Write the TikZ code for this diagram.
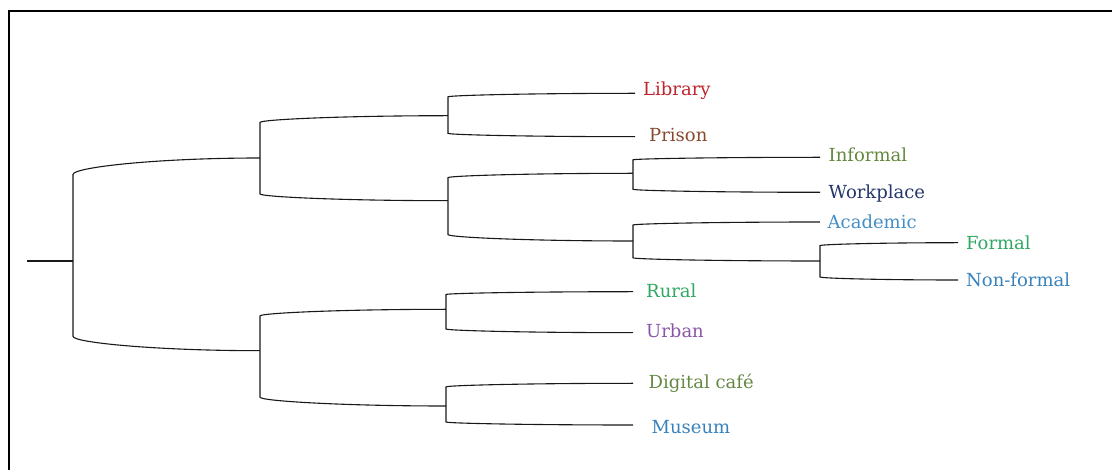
\documentclass[tikz,border=0pt]{standalone}
\usepackage{fontspec}
\setmainfont{DejaVu Serif}
\usetikzlibrary{calc}

\definecolor{cLibrary}{RGB}{192,36,44}
\definecolor{cPrison}{RGB}{136,74,46}
\definecolor{cInformal}{RGB}{100,136,62}
\definecolor{cWorkplace}{RGB}{36,54,106}
\definecolor{cAcademic}{RGB}{70,142,196}
\definecolor{cFormal}{RGB}{48,168,100}
\definecolor{cNonformal}{RGB}{56,130,188}
\definecolor{cRural}{RGB}{48,168,100}
\definecolor{cUrban}{RGB}{138,86,166}
\definecolor{cDigital}{RGB}{100,136,68}
\definecolor{cMuseum}{RGB}{56,130,188}

\tikzset{
  tree/.style={draw=black!90, line width=1.1pt},
  leaf/.style={anchor=base west, inner sep=0pt, font=\fontsize{18}{21}\selectfont},
  frameline/.style={draw=black, line width=2.2pt}
}

% arm from a junction (vertical bar at the junction's x) to a child point
\newcommand\arm[2]{%
  \draw[tree] let \p1=(#1), \p2=(#2) in
    (\x1,\y1) -- (\x1,{\y2+0.16*(\y1-\y2)})
    .. controls (\x1,{\y2+0.09*(\y1-\y2)}) and ({\x1+0.45*(\x2-\x1)},\y2) .. (\x2,\y2);%
}

\begin{document}
\begin{tikzpicture}[x=1pt,y=-1pt]
\useasboundingbox (0,0) rectangle (1112,470);

% frame: top and left edges only
\draw[frameline] (1112,11) -- (9,11) -- (9,470);

% junctions
\coordinate (start) at (27,261);
\coordinate (root)  at (73,261);
\coordinate (up)    at (260,158);
\coordinate (down)  at (260,350.7);
\coordinate (lp)    at (448,115.7);
\coordinate (mix)   at (448,200.7);
\coordinate (iw)    at (633,173.3);
\coordinate (acad)  at (633,241);
\coordinate (form)  at (820,261);
\coordinate (ru)    at (446,309.3);
\coordinate (dm)    at (446,406);

% leaf line ends
\coordinate (eLibrary)   at (635,93.3);
\coordinate (ePrison)    at (635,136.7);
\coordinate (eInformal)  at (820,157.3);
\coordinate (eWorkplace) at (820,192.3);
\coordinate (eAcademic)  at (820,222);
\coordinate (eFormal)    at (958,242.7);
\coordinate (eNonformal) at (958,280);
\coordinate (eRural)     at (633,291.7);
\coordinate (eUrban)     at (633,332.7);
\coordinate (eDigital)   at (633,383.3);
\coordinate (eMuseum)    at (633,425);

% labels
\node[leaf, text=cLibrary]   (Library)   at (643,96)     {Library};
\node[leaf, text=cPrison]    (Prison)    at (649,141.7)  {Prison};
\node[leaf, text=cInformal]  (Informal)  at (828.5,161.5) {Informal};
\node[leaf, text=cWorkplace] (Workplace) at (828.5,198.5) {Workplace};
\node[leaf, text=cAcademic]  (Academic)  at (827.5,228.3) {Academic};
\node[leaf, text=cFormal]    (Formal)    at (966,250)    {Formal};
\node[leaf, text=cNonformal] (Nonformal) at (966,286.7)  {Non-formal};
\node[leaf, text=cRural]     (Rural)     at (646,297.3)  {Rural};
\node[leaf, text=cUrban]     (Urban)     at (646,337.3)  {Urban};
\node[leaf, text=cDigital]   (Digital)   at (648.5,388.3) {Digital café};
\node[leaf, text=cMuseum]    (Museum)    at (651.5,433.3) {Museum};

% tree
\draw[tree] (start) -- (root);
\arm{root}{up}   \arm{root}{down}
\arm{up}{lp}     \arm{up}{mix}
\arm{lp}{eLibrary} \arm{lp}{ePrison}
\arm{mix}{iw}    \arm{mix}{acad}
\arm{iw}{eInformal} \arm{iw}{eWorkplace}
\arm{acad}{eAcademic} \arm{acad}{form}
\arm{form}{eFormal} \arm{form}{eNonformal}
\arm{down}{ru}   \arm{down}{dm}
\arm{ru}{eRural} \arm{ru}{eUrban}
\arm{dm}{eDigital} \arm{dm}{eMuseum}
\end{tikzpicture}
\end{document}
